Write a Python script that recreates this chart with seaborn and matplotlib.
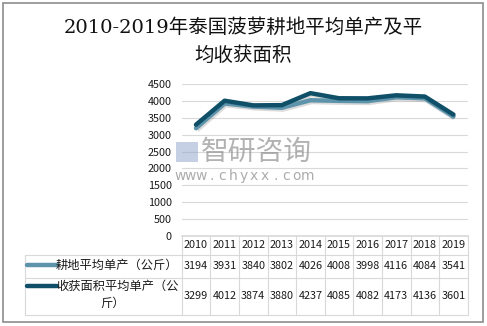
import matplotlib
matplotlib.use("Agg")
import matplotlib.pyplot as plt
from matplotlib.lines import Line2D
from matplotlib.patches import Rectangle
import seaborn as sns
import pandas as pd

# Data
years = ["2010", "2011", "2012", "2013", "2014", "2015", "2016", "2017", "2018", "2019"]
cultivated_yield = [3194, 3931, 3840, 3802, 4026, 4008, 3998, 4116, 4084, 3541]
harvested_yield = [3299, 4012, 3874, 3880, 4237, 4085, 4082, 4173, 4136, 3601]
series_names = ["耕地平均单产（公斤）", "收获面积平均单产（公斤）"]
y_ticks = [0, 500, 1000, 1500, 2000, 2500, 3000, 3500, 4000, 4500]

sns.set_theme(style="white")
plt.rcParams["font.family"] = ["Noto Sans CJK SC", "DejaVu Sans"]

W, H = 487, 326
fig = plt.figure(figsize=(W / 100, H / 100), dpi=100)


def fx(px):
    return px / W


def fy(py):
    return 1 - py / H


# Outer frame
fig.patches.append(Rectangle((fx(2.5), fy(321.5)), fx(480.5), 319 / H,
                             transform=fig.transFigure, fill=False,
                             edgecolor="#8c8c8c", linewidth=1.2))

# Title
fig.text(0.5, fy(28), "2010-2019年泰国菠萝耕地平均单产及平", ha="center", va="center",
         fontsize=14, color="#111111", weight="medium",
         family=["DejaVu Serif", "Noto Sans CJK SC"])
fig.text(0.5, fy(55), "均收获面积", ha="center", va="center",
         fontsize=14, color="#111111", weight="medium", family=["Noto Sans CJK SC"])

# Plot area
left, right, top, bottom = 181.7, 467.7, 84.3, 235.7
ax = fig.add_axes([fx(left), fy(bottom), fx(right - left), (bottom - top) / H])

df = pd.DataFrame({
    "year": list(range(len(years))) * 2,
    "value": cultivated_yield + harvested_yield,
    "series": [series_names[0]] * len(years) + [series_names[1]] * len(years),
})
palette = {series_names[0]: "#5d93ab", series_names[1]: "#0f5068"}

# soft shadow under the lines
for name, vals in zip(series_names, [cultivated_yield, harvested_yield]):
    ax.plot([i + 0.04 for i in range(len(years))], [v - 45 for v in vals],
            color="#9a9a9a", alpha=0.35, linewidth=3.6, solid_capstyle="butt", zorder=1)

sns.lineplot(data=df, x="year", y="value", hue="series", palette=palette,
             linewidth=3.2, ax=ax, legend=False, zorder=3)

ax.set_xlim(-0.5, len(years) - 0.5)
ax.set_ylim(0, 4500)
ax.set_yticks(y_ticks)
ax.set_yticklabels([str(t) for t in y_ticks], fontsize=7.8, color="#1a1a1a")
ax.tick_params(axis="y", length=0, pad=7)
ax.set_xticks([])
ax.set_xlabel("")
ax.set_ylabel("")
ax.grid(axis="y", color="#d9d9d9", linewidth=0.8)
for s in ["top", "right", "left"]:
    ax.spines[s].set_visible(False)
ax.spines["bottom"].set_color("#d9d9d9")
ax.set_facecolor("none")

# Watermark
fig.patches.append(Rectangle((fx(176), fy(162)), fx(22), 20 / H, transform=fig.transFigure,
                             facecolor="#8ea2cc", alpha=0.5, edgecolor="none"))
fig.text(fx(201), fy(152), "智研咨询", fontsize=20, color="#808080", alpha=0.6,
         ha="left", va="center")
for i, ch in enumerate("www.chyxx.com"):
    fig.text(fx(180 + i * 10.6), fy(176), ch, fontsize=10, color="#808080",
             alpha=0.65, ha="center", va="center", family=["DejaVu Sans"])

# Data table beneath the chart
col_w = (right - left) / len(years)
row_top, row1, row2, row_bot = bottom, 254.7, 277.7, 315.0
grid_c = "#d9d9d9"


def hline(y, x0, x1):
    fig.lines.append(Line2D([fx(x0), fx(x1)], [fy(y), fy(y)], transform=fig.transFigure,
                            color=grid_c, linewidth=0.8))


def vline(x, y0, y1):
    fig.lines.append(Line2D([fx(x), fx(x)], [fy(y0), fy(y1)], transform=fig.transFigure,
                            color=grid_c, linewidth=0.8))


hline(row1, 25, right)
hline(row2, 25, right)
hline(row_bot, 25, right)
vline(25, row1, row_bot)
for k in range(len(years) + 1):
    vline(left + k * col_w, row_top, row_bot)

fs = 7.8
for k, yr in enumerate(years):
    cx = left + (k + 0.5) * col_w
    fig.text(fx(cx), fy((row_top + row1) / 2), yr, ha="center", va="center",
             fontsize=fs, color="#1a1a1a")
    fig.text(fx(cx), fy((row1 + row2) / 2), str(cultivated_yield[k]), ha="center",
             va="center", fontsize=fs, color="#1a1a1a")
    fig.text(fx(cx), fy((row2 + row_bot) / 2), str(harvested_yield[k]), ha="center",
             va="center", fontsize=fs, color="#1a1a1a")

# Legend keys and series labels in the table
lfs = 8.8
for y, name in [(264.5, series_names[0]), (286, series_names[1])]:
    fig.lines.append(Line2D([fx(27), fx(57)], [fy(y), fy(y)], transform=fig.transFigure,
                            color=palette[name], linewidth=3.2, solid_capstyle="round"))
fig.text(fx(56), fy(265), series_names[0], ha="left", va="center", fontsize=lfs,
         color="#1a1a1a")
fig.text(fx(56), fy(286), "收获面积平均单产（公", ha="left", va="center", fontsize=lfs,
         color="#1a1a1a")
fig.text(fx(113), fy(303), "斤）", ha="center", va="center", fontsize=lfs, color="#1a1a1a")

fig.savefig("out.png", dpi=100)
